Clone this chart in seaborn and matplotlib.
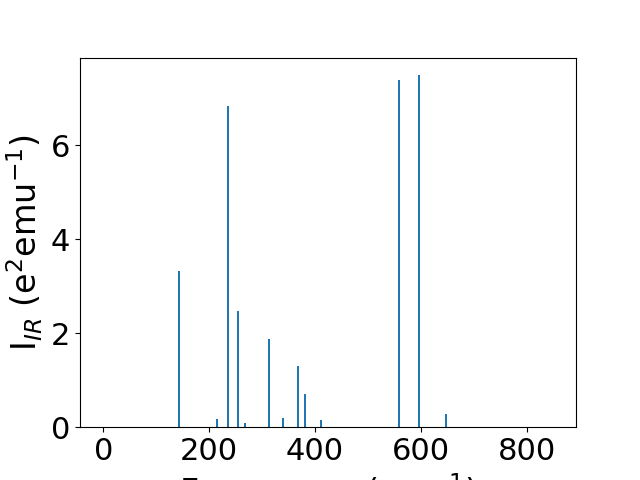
import numpy as np
import pandas as pd
import matplotlib
matplotlib.use("Agg")
import matplotlib.pyplot as plt
import seaborn as sns

# frecuencias (cm^-1) e intensidades IR
freq = [0.0, 143.4, 215.0, 235.8, 254.7, 268.0, 313.0, 339.6, 368.0, 381.0, 411.0, 558.5, 597.0, 647.5, 849.0]
intensity = [0.0, 3.32, 0.17, 6.83, 2.47, 0.085, 1.87, 0.19, 1.30, 0.70, 0.15, 7.38, 7.49, 0.28, 0.0]

df = pd.DataFrame({"freq": freq, "intensity": intensity})

fig, ax = plt.subplots(figsize=(6.4, 4.8), dpi=100)

# ancho de barra ~3 cm^-1 en escala nativa
bar_w = 3.0 / np.diff(np.sort(df["freq"].values)).min()
sns.barplot(data=df, x="freq", y="intensity", native_scale=True, width=bar_w,
            color="#1f77b4", saturation=1, errorbar=None, linewidth=0, ax=ax)

ax.set_xlabel("Frequency (cm$^{-1}$)", fontsize=24)
ax.set_ylabel("I$_{IR}$ (e$^2$emu$^{-1}$)", fontsize=24)
ax.tick_params(labelsize=22)
ax.set_xticks([0, 200, 400, 600, 800])
ax.set_yticks([0, 2, 4, 6])

plt.savefig("out.png", dpi=100)
